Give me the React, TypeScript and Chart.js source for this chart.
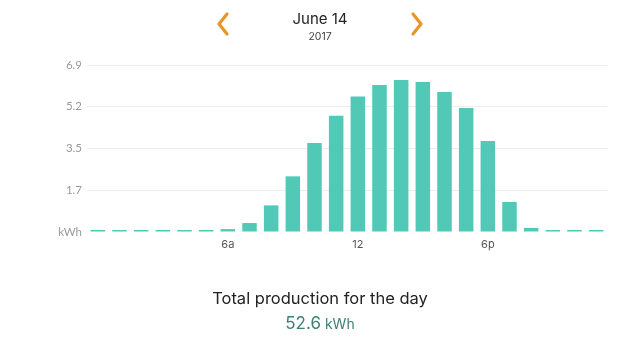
import React, { useEffect, useRef } from "react";
import { Chart, registerables } from "chart.js";

Chart.register(...registerables);

const hours = [
  "12a", "1a", "2a", "3a", "4a", "5a", "6a", "7a", "8a", "9a", "10a", "11a",
  "12", "1p", "2p", "3p", "4p", "5p", "6p", "7p", "8p", "9p", "10p", "11p",
];
const shownHourLabels = ["6a", "12", "6p"];
const production = [
  0, 0, 0, 0, 0, 0, 0.12, 0.37, 1.1, 2.3, 3.68, 4.8,
  5.6, 6.07, 6.28, 6.2, 5.78, 5.12, 3.76, 1.24, 0.17, 0, 0, 0,
];
const yMax = 6.9;
const yTickValues = [0, 1.725, 3.45, 5.175, 6.9];
const yTickLabels = ["kWh", "1.7", "3.5", "5.2", "6.9"];
const dateTitle = "June 14";
const yearTitle = "2017";
const totalLabel = "Total production for the day";
const totalValue = "52.6";
const totalUnit = "kWh";

const TEAL = "#52C9B7";

export default function App() {
  const ref = useRef<HTMLCanvasElement | null>(null);

  useEffect(() => {
    if (!ref.current) return;
    const chart = new Chart(ref.current, {
      type: "bar",
      data: {
        labels: hours,
        datasets: [
          {
            data: production,
            backgroundColor: TEAL,
            borderWidth: 0,
            barPercentage: 0.67,
            categoryPercentage: 1,
            minBarLength: 2,
          },
        ],
      },
      options: {
        animation: false,
        responsive: true,
        maintainAspectRatio: false,
        layout: { padding: { left: 0, right: 33, top: 65, bottom: 0 } },
        plugins: { legend: { display: false }, tooltip: { enabled: false } },
        scales: {
          x: {
            grid: { display: false, drawTicks: false },
            border: { display: false },
            afterFit: (s: any) => {
              s.height = 128;
            },
            ticks: {
              autoSkip: false,
              maxRotation: 0,
              padding: 6,
              color: "#555",
              font: { family: "Inter", size: 11 },
              callback: (_v: any, i: number) =>
                shownHourLabels.includes(hours[i]) ? hours[i] : "",
            },
          },
          y: {
            min: 0,
            max: yMax,
            afterFit: (s: any) => {
              s.width = 87;
            },
            afterBuildTicks: (s: any) => {
              s.ticks = yTickValues.map((v) => ({ value: v }));
            },
            grid: {
              drawTicks: false,
              color: (ctx: any) =>
                ctx.tick && ctx.tick.value === 0 ? "rgba(0,0,0,0)" : "#ececec",
              lineWidth: 1,
            },
            border: { display: false },
            ticks: {
              padding: 5,
              color: "#9a9a9a",
              font: { family: "Lato", size: 11.5 },
              callback: (_v: any, i: number) => yTickLabels[i],
            },
          },
        },
      },
    });
    return () => chart.destroy();
  }, []);

  const chevronStyle: React.CSSProperties = { position: "absolute", top: 11 };

  return (
    <div
      style={{
        position: "absolute",
        left: 0,
        top: 0,
        width: 640,
        height: 360,
        background: "#fff",
        fontFamily: "Inter, 'Open Sans', sans-serif",
        overflow: "hidden",
      }}
    >
      <canvas ref={ref} style={{ position: "absolute", left: 0, top: 0 }} width={640} height={360} />
      <svg width={18} height={26} style={{ ...chevronStyle, left: 214 }}>
        <polyline points="13,3 5,13 13,23" fill="none" stroke="#E8962A" strokeWidth={3.2} strokeLinecap="round" strokeLinejoin="round" />
      </svg>
      <svg width={18} height={26} style={{ ...chevronStyle, left: 408 }}>
        <polyline points="5,3 13,13 5,23" fill="none" stroke="#E8962A" strokeWidth={3.2} strokeLinecap="round" strokeLinejoin="round" />
      </svg>
      <div style={{ position: "absolute", left: 0, width: 640, top: 9, textAlign: "center", fontSize: 15, color: "#222", lineHeight: "20px" }}>
        {dateTitle}
      </div>
      <div style={{ position: "absolute", left: 0, width: 640, top: 30, textAlign: "center", fontSize: 10.5, color: "#444", lineHeight: "14px" }}>
        {yearTitle}
      </div>
      <div style={{ position: "absolute", left: 0, width: 640, top: 287, textAlign: "center", fontSize: 16.5, color: "#222", lineHeight: "22px" }}>
        {totalLabel}
      </div>
      <div style={{ position: "absolute", left: 0, width: 640, top: 312, textAlign: "center", color: "#3D8074", lineHeight: "22px" }}>
        <span style={{ fontSize: 17 }}>{totalValue}</span>
        <span style={{ fontSize: 14 }}> {totalUnit}</span>
      </div>
    </div>
  );
}
